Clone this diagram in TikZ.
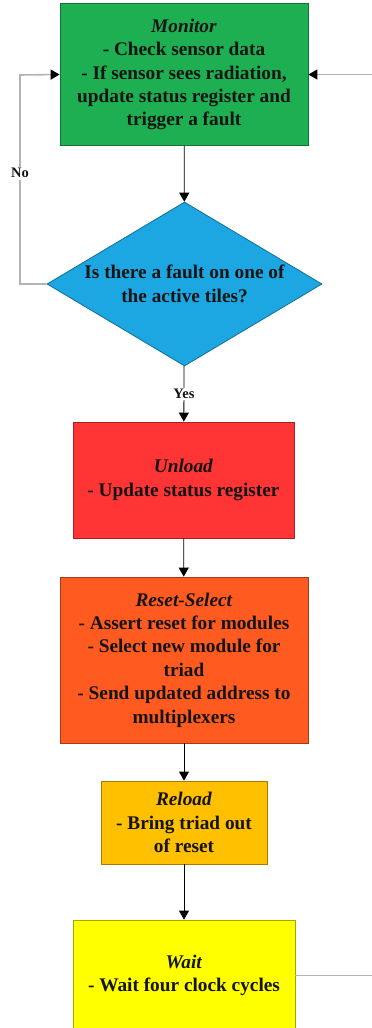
\documentclass[tikz,border=0pt]{standalone}
\usepackage{fontspec}
\setmainfont{Liberation Serif}
\usetikzlibrary{arrows.meta,shapes.geometric}

\definecolor{cmon}{HTML}{1DAF52}
\definecolor{cdia}{HTML}{1CA7E2}
\definecolor{cunl}{HTML}{FF3535}
\definecolor{crs}{HTML}{FF5A20}
\definecolor{crel}{HTML}{FFC000}
\definecolor{cwai}{HTML}{FFFF00}
\definecolor{txt}{HTML}{141414}
\definecolor{loopgray}{HTML}{B4B4B4}

\tikzset{
  stepbox/.style={rectangle, draw=#1!65!black, fill=#1, line width=0.8pt,
    inner sep=0pt, align=center, text=txt,
    font=\bfseries\fontsize{19.3}{23.4}\selectfont},
  flow/.style={draw=black, line width=0.8pt, -{Triangle[length=9pt,width=10pt]}},
  back/.style={draw=loopgray, line width=1.6pt, -{Triangle[length=9pt,width=10pt,fill=black,color=black]}},
  tag/.style={fill=white, inner sep=1.5pt, text=txt,
    font=\bfseries\fontsize{14.5}{16}\selectfont},
}

\begin{document}
\begin{tikzpicture}[x=1pt,y=-1pt]
\useasboundingbox (0,0) rectangle (372,1028);

% process steps
\node[stepbox=cmon, minimum width=248pt, minimum height=142pt] (mon) at (184,74.5)
  {\textit{Monitor}\\- Check sensor data\\- If sensor sees radiation,\\update status register and\\trigger a fault};

\node[diamond, draw=cdia!65!black, fill=cdia, line width=0.8pt, inner sep=0pt,
  minimum width=275pt, minimum height=164pt,
  label={[align=center, text=txt, font=\bfseries\fontsize{19.3}{24.5}\selectfont]center:Is there a fault on one of\\the active tiles?}]
  (dia) at (184.5,284) {};

\node[stepbox=cunl, minimum width=221pt, minimum height=116pt] (unl) at (183.5,480)
  {\textit{Unload}\\- Update status register};

\node[stepbox=crs, minimum width=248pt, minimum height=166pt] (rs) at (184,660)
  {\textit{Reset-Select}\\- Assert reset for modules\\- Select new module for\\triad\\- Send updated address to\\multiplexers};

\node[stepbox=crel, minimum width=166pt, minimum height=83pt] (rel) at (184,822.5)
  {\textit{Reload}\\- Bring triad out\\of reset};

\node[stepbox=cwai, minimum width=222pt, minimum height=111pt] (wai) at (184,975.5)
  {\textit{Wait}\\- Wait four clock cycles};

% main flow
\draw[flow] (mon) -- (dia);
\draw[flow] (dia) -- node[tag] {Yes} (unl);
\draw[flow] (unl) -- (rs);
\draw[flow] (rs) -- (rel);
\draw[flow] (rel) -- (wai);

% loops back to monitoring
\draw[back] (dia.west) -- (20,284) -- node[tag, pos=0.53] {No} (20,75) -- (mon.west);
\draw[back] (wai.east) -- (380,975.5) |- (mon.east);
\end{tikzpicture}
\end{document}
